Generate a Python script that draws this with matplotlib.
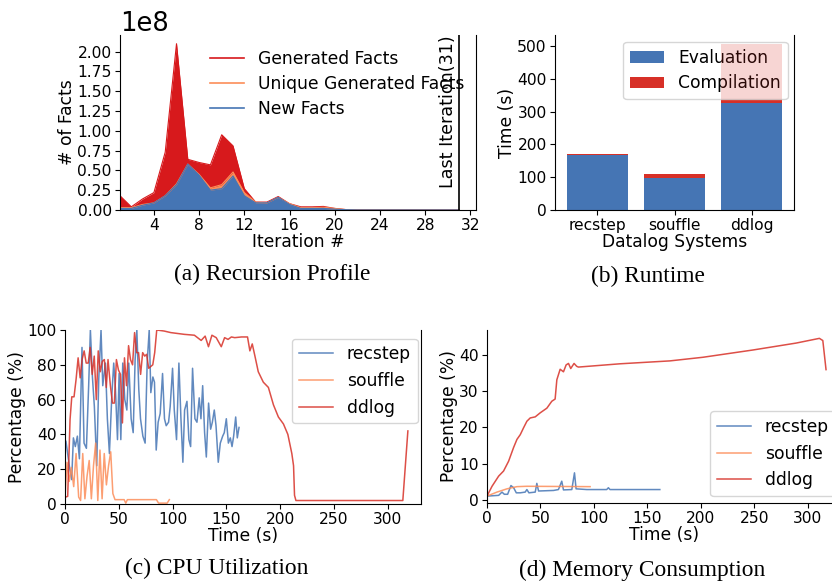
import matplotlib
matplotlib.use("Agg")
import matplotlib.pyplot as plt
from matplotlib.lines import Line2D
from matplotlib.ticker import MultipleLocator

plt.rcParams['font.family'] = ['DejaVu Sans']
plt.rcParams['font.size'] = 12.3
plt.rcParams['xtick.labelsize'] = 11.2
plt.rcParams['ytick.labelsize'] = 11.2
plt.rcParams['xtick.major.pad'] = 2.5
plt.rcParams['ytick.major.pad'] = 2.5

# ---------------- data ----------------
iterations = list(range(1, 32))
generated = [0.18, 0.04, 0.14, 0.22, 0.73, 2.10, 0.64, 0.60, 0.57, 0.95, 0.81, 0.27, 0.10, 0.10, 0.17,
             0.08, 0.04, 0.04, 0.045, 0.02, 0.005, 0.002, 0.002, 0.002, 0.002, 0.002, 0.002, 0.002,
             0.002, 0.002, 0.002]
unique_generated = [0.03, 0.03, 0.07, 0.09, 0.18, 0.33, 0.58, 0.45, 0.28, 0.32, 0.48, 0.22, 0.10, 0.09,
                    0.16, 0.08, 0.03, 0.03, 0.035, 0.02, 0.005, 0.002, 0.002, 0.002, 0.002, 0.002,
                    0.002, 0.002, 0.002, 0.002, 0.002]
new_facts = [0.02, 0.02, 0.06, 0.09, 0.18, 0.32, 0.58, 0.44, 0.25, 0.27, 0.43, 0.18, 0.09, 0.09, 0.16,
             0.07, 0.02, 0.02, 0.02, 0.01, 0.004, 0.001, 0.001, 0.001, 0.001, 0.001, 0.001, 0.001,
             0.001, 0.001, 0.001]
last_iteration = 31

systems = ['recstep', 'souffle', 'ddlog']
evaluation = [166, 98, 325]
compilation = [5, 12, 12]
timeout_extra = [0, 0, 169]

recstep_cpu_t = [0.9, 4.0, 6.2, 7.8, 9.6, 11.5, 13.4, 15.8, 17.7, 19.9, 22.0, 23.6, 25.5, 27.3, 29.5,
                 31.4, 33.5, 35.1, 37.6, 39.4, 41.3, 43.5, 45.3, 46.9, 48.8, 50.3, 51.9, 53.7, 55.6,
                 57.5, 59.3, 61.5, 63.4, 65.2, 66.8, 68.6, 70.2, 72.4, 74.5, 76.4, 78.3, 79.8, 81.7,
                 83.2, 84.8, 86.6, 88.5, 90.7, 92.5, 94.1, 96.3, 97.8, 100.0, 101.6, 103.7, 105.9,
                 107.8, 109.6, 111.2, 113.4, 115.2, 116.8, 118.6, 120.8, 122.7, 124.8, 126.4, 128.0,
                 129.8, 131.4, 133.5, 135.4, 137.0, 138.8, 140.4, 142.5, 144.4, 146.6, 148.1, 150.0,
                 151.9, 153.7, 155.3, 156.8, 158.7, 160.2, 161.8]
recstep_cpu_v = [36, 22, 14, 38, 33, 39, 26, 90, 35, 32, 68, 100, 73, 56, 22, 72, 100, 68, 81, 49,
                 29, 62, 81, 66, 37, 75, 37, 81, 60, 54, 81, 49, 41, 83, 100, 66, 49, 39, 35, 81,
                 100, 64, 73, 70, 31, 47, 52, 75, 49, 45, 47, 56, 78, 54, 37, 81, 49, 24, 54, 59,
                 37, 33, 78, 49, 47, 61, 49, 68, 41, 27, 58, 43, 47, 54, 45, 24, 35, 39, 41, 49,
                 35, 38, 33, 39, 50, 38, 44]
souffle_cpu_t = [0, 1.9, 4.0, 5.9, 8.1, 10.3, 12.7, 14.5, 16.5, 18.5, 20.5, 22.5, 24.5, 26.5, 28.5,
                 30.5, 32.5, 34.5, 36.5, 38.5, 40.5, 42.5, 44.5, 46.5, 55, 56.5, 58, 85, 87, 95, 97]
souffle_cpu_v = [4, 24, 13, 21, 10, 29, 4, 2, 29, 3, 16, 25, 3, 22, 35, 2, 31, 3, 29, 11, 22, 30, 6,
                 2.5, 2.5, 0.5, 2.5, 2.5, 0.5, 0.5, 2.5]
ddlog_cpu_t = [0.6, 2.5, 4.7, 6.3, 8.4, 10.3, 12.2, 14.1, 15.9, 17.8, 19.7, 21.6, 23.4, 25.3, 27.2,
               29.1, 30.9, 32.8, 34.7, 36.6, 38.4, 40.0, 42.2, 44.1, 45.9, 47.8, 49.7, 51.6, 53.4,
               55.3, 57.2, 59.1, 60.9, 62.8, 64.7, 66.6, 68.4, 70.3, 72.2, 74.1, 75.9, 77.8, 79.7,
               81.6, 83.4, 85.3, 92.2, 98.4, 104.7, 110.9, 120.3, 126.6, 130.3, 133.4, 136.6, 140.6,
               145.3, 148.4, 151.6, 154.7, 157.8, 164.1, 169.7, 171.9, 174.1, 176.6, 179.7, 184.4,
               189.1, 193.8, 198.4, 203.1, 207.2, 210.9, 212.5, 213.4, 214.7, 314.1, 318.8]
ddlog_cpu_v = [4, 4.4, 48.6, 61.6, 61.6, 71.6, 84, 72.5, 83, 88, 81, 81, 90, 74.5, 85, 60, 88, 76, 82,
               83, 67, 83, 68, 58, 58, 83, 77, 74.5, 46.6, 84, 68, 91, 83, 80, 98.5, 87, 87, 74.5,
               87, 85, 86, 78, 79, 80, 87, 100, 99.4, 98.5, 98, 97.5, 97, 94, 96.5, 90.4, 97, 95.6,
               90.4, 95.6, 94.6, 96, 95.6, 96, 96, 88, 92, 85, 76, 70, 67, 57, 50, 46, 40, 29, 22,
               5, 2, 2, 42]

recstep_mem_t = [0, 10.9, 14, 16.2, 19.3, 22.4, 24.9, 27.4, 31.1, 35.7, 37.3, 39.2, 45.1, 46.6, 48.2,
                 62.2, 66.8, 69.9, 71.5, 79.3, 81.8, 83.3, 93.3, 111.9, 113.5, 115, 161.6]
recstep_mem_v = [1.1, 1.3, 2.2, 1.6, 1.6, 4.0, 3.4, 2, 2, 2.2, 2.9, 2, 2.2, 4.6, 2.5, 2.65, 2.9, 5.2,
                 2.8, 2.9, 7.5, 3.1, 2.9, 2.9, 3.4, 2.9, 2.9]
souffle_mem_t = [0, 9.3, 18.7, 28, 37.3, 96.4]
souffle_mem_v = [1.1, 2.2, 3.1, 3.7, 3.8, 3.7]
ddlog_mem_t = [0, 4.7, 10.9, 15.5, 20.2, 24.9, 28, 31.1, 34.2, 37.3, 40.4, 45.1, 49.7, 56, 60.6, 63.7,
               65.3, 68.4, 71.5, 74, 76.2, 78.3, 81.4, 83.9, 85.5, 124.3, 171, 202, 248.7, 289,
               310.8, 314, 317]
ddlog_mem_v = [1.1, 3.8, 6.6, 8, 10.7, 14.5, 16.7, 18, 19.9, 21.7, 22.6, 22.9, 24, 25.3, 27.2, 27.8,
               33.1, 36, 35.3, 37.2, 37.6, 36.2, 37.6, 36.8, 36.6, 37.5, 38.3, 39.3, 41.3, 43.2,
               44.5, 43.9, 35.9]

# ---------------- style ----------------
BLUE = '#4575b4'
RED = '#d73027'
RED_A = '#d7191c'
ORANGE = '#fc8d59'
W, H = 832, 581


def pos(x0, y0, x1, y1):
    return [x0 / W, 1 - y1 / H, (x1 - x0) / W, (y1 - y0) / H]


fig = plt.figure(figsize=(W / 100, H / 100), dpi=100)

# ---------------- (a) ----------------
ax = fig.add_axes(pos(120, 35, 476, 210))
gen = [g * 1e8 for g in generated]
uni = [u * 1e8 for u in unique_generated]
new = [n * 1e8 for n in new_facts]
ax.fill_between(iterations, 0, gen, color=RED_A, lw=0)
ax.plot(iterations, gen, color=RED_A, lw=0.8)
ax.fill_between(iterations, 0, uni, color=ORANGE, lw=0)
ax.plot(iterations, uni, color=ORANGE, lw=0.8)
ax.fill_between(iterations, 0, new, color=BLUE, lw=0)
ax.plot(iterations, new, color=BLUE, lw=0.8)
ax.axvline(last_iteration, color='black', lw=1.2)
ax.set_xlim(1, 32.5)
ax.set_ylim(0, 2.21e8)
ax.xaxis.set_major_locator(MultipleLocator(4))
ax.yaxis.set_major_locator(MultipleLocator(0.25e8))
ax.text(last_iteration - 0.15, 2.21e8, 'Last Iteration(31)', rotation=90, ha='right', va='top',
        fontsize=12.6)
ax.yaxis.get_offset_text().set_fontsize(18.5)
ax.set_xlabel('Iteration #', labelpad=0)
ax.set_ylabel('# of Facts', labelpad=1)
handles = [Line2D([], [], color=RED_A, lw=1.2), Line2D([], [], color=ORANGE, lw=1.2),
           Line2D([], [], color=BLUE, lw=1.2)]
ax.legend(handles, ['Generated Facts', 'Unique Generated Facts', 'New Facts'], frameon=False,
          loc='upper right', bbox_to_anchor=(0.995, 0.975), borderaxespad=0.2, labelspacing=0.42)
ax.spines['top'].set_visible(False)

# ---------------- (b) ----------------
ax = fig.add_axes(pos(555, 35, 794, 210))
xs = list(range(len(systems)))
ax.bar(xs, evaluation, width=0.8, color=BLUE, label='Evaluation')
ax.bar(xs, compilation, width=0.8, bottom=evaluation, color=RED, label='Compilation')
tops = [e + c for e, c in zip(evaluation, compilation)]
ax.bar(xs, timeout_extra, width=0.8, bottom=tops, color=RED, alpha=0.2, zorder=6)
ax.set_xticks(xs)
ax.set_xticklabels(systems)
ax.set_ylim(0, 533)
ax.set_xlim(-0.55, 2.55)
ax.yaxis.set_major_locator(MultipleLocator(100))
ax.set_xlabel('Datalog Systems', labelpad=0)
ax.set_ylabel('Time (s)', labelpad=1)
ax.legend(loc='upper right', bbox_to_anchor=(0.98, 0.97), borderaxespad=0.1, labelspacing=0.45)
ax.spines['top'].set_visible(False)

# ---------------- (c) ----------------
ax = fig.add_axes(pos(65, 330, 421, 504))
ax.plot(recstep_cpu_t, recstep_cpu_v, color=BLUE, lw=1.1, alpha=0.85, label='recstep')
ax.plot(souffle_cpu_t, souffle_cpu_v, color=ORANGE, lw=1.1, alpha=0.85, label='souffle')
ax.plot(ddlog_cpu_t, ddlog_cpu_v, color=RED, lw=1.1, alpha=0.85, label='ddlog')
ax.set_xlim(0, 331)
ax.set_ylim(0, 100)
ax.xaxis.set_major_locator(MultipleLocator(50))
ax.yaxis.set_major_locator(MultipleLocator(20))
ax.set_xlabel('Time (s)', labelpad=0)
ax.set_ylabel('Percentage (%)', labelpad=1)
ax.legend(loc='upper right', bbox_to_anchor=(1.0, 0.97), borderaxespad=0.2)
ax.spines['top'].set_visible(False)

# ---------------- (d) ----------------
ax = fig.add_axes(pos(487, 330, 841, 503))
ax.plot(recstep_mem_t, recstep_mem_v, color=BLUE, lw=1.1, alpha=0.85, label='recstep')
ax.plot(souffle_mem_t, souffle_mem_v, color=ORANGE, lw=1.1, alpha=0.85, label='souffle')
ax.plot(ddlog_mem_t, ddlog_mem_v, color=RED, lw=1.1, alpha=0.85, label='ddlog')
ax.set_xlim(0, 331)
ax.set_ylim(-0.8, 46.8)
ax.xaxis.set_major_locator(MultipleLocator(50))
ax.yaxis.set_major_locator(MultipleLocator(10))
ax.set_xlabel('Time (s)', labelpad=0)
ax.set_ylabel('Percentage (%)', labelpad=1)
ax.legend(loc='lower right', bbox_to_anchor=(0.995, 0.02), borderaxespad=0.2)
ax.spines['top'].set_visible(False)

# ---------------- captions ----------------
cap = dict(fontsize=16.8, family=['Liberation Serif', 'DejaVu Serif'], ha='center', va='center')
fig.text(272 / W, 1 - 274 / H, '(a) Recursion Profile', **cap)
fig.text(648 / W, 1 - 276 / H, '(b) Runtime', **cap)
fig.text(217 / W, 1 - 568 / H, '(c) CPU Utilization', **cap)
fig.text(642 / W, 1 - 570 / H, '(d) Memory Consumption', **cap)

fig.savefig('out.png', dpi=100)
